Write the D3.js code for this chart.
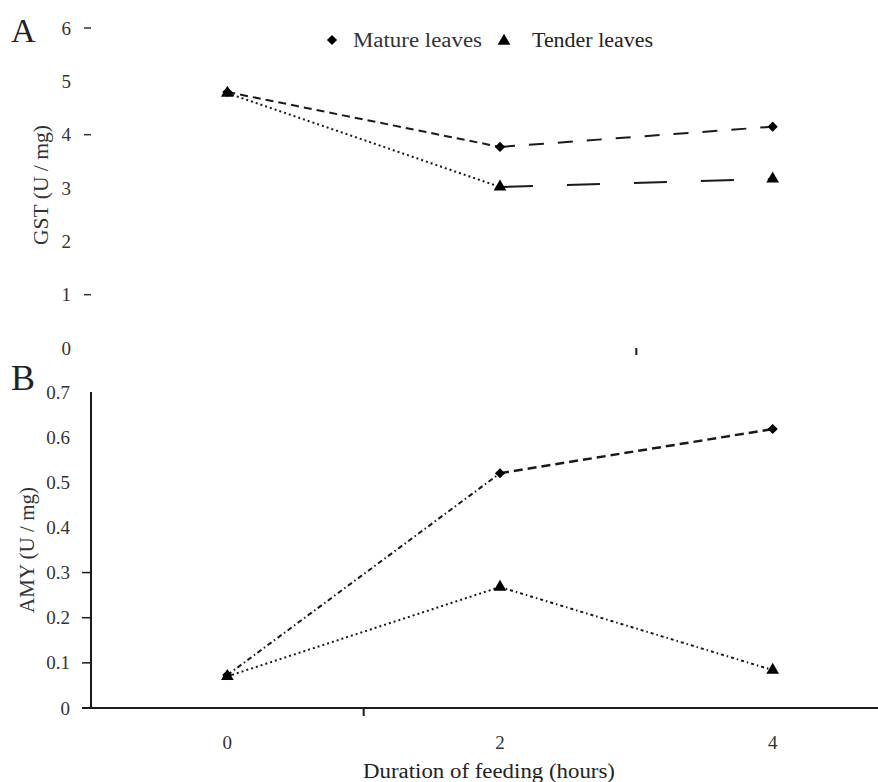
<!DOCTYPE html>
<html><head><meta charset="utf-8">
<script src="https://cdn.jsdelivr.net/npm/d3@7"></script>
<style>
html,body{margin:0;padding:0;background:#fff;}
svg{display:block;font-family:"Liberation Serif","Times New Roman",serif;}
</style></head>
<body>
<svg id="c" width="878" height="782"></svg>
<script>
// ---- data ----
const hours = ["0", "2", "4"];
const gstMature = [4.80, 3.77, 4.15];
const gstTender = [4.78, 3.02, 3.17];
const amyMature = [0.073, 0.52, 0.618];
const amyTender = [0.070, 0.268, 0.084];
const gstTicks = [0, 1, 2, 3, 4, 5, 6];
const amyTicks = [0, 0.1, 0.2, 0.3, 0.4, 0.5, 0.6, 0.7];
const seriesNames = ["Mature leaves", "Tender leaves"];

const svg = d3.select("#c");
const ink = "#1a1a1a";

const x = d3.scaleBand().domain(hours).range([91, 909]).padding(0);
const cx = d => x(d) + x.bandwidth() / 2;
const yA = d3.scaleLinear().domain([0, 6]).range([348, 28]);
const yB = d3.scaleLinear().domain([0, 0.7]).range([708, 392]);

// ---- panel A axis (labels only, few tick marks) ----
const axA = svg.append("g").attr("transform", "translate(91,0)")
  .call(d3.axisLeft(yA).tickValues(gstTicks).tickSize(0).tickPadding(20)
    .tickFormat(d3.format("d")));
axA.select(".domain").remove();
axA.selectAll("text").attr("font-size", 19).attr("fill", "#333")
  .attr("font-family", "Liberation Serif");
svg.append("g").selectAll("line").data([6, 4, 1]).join("line")
  .attr("x1", 84).attr("x2", 91)
  .attr("y1", d => yA(d)).attr("y2", d => yA(d))
  .attr("stroke", "#333").attr("stroke-width", 1.5);
// category boundary tick (A)
svg.append("line").attr("x1", x("4")).attr("x2", x("4"))
  .attr("y1", 348).attr("y2", 355).attr("stroke", ink).attr("stroke-width", 2);

// ---- panel B axes ----
const axB = svg.append("g").attr("transform", "translate(91,0)")
  .call(d3.axisLeft(yB).tickValues(amyTicks).tickSize(0).tickPadding(21)
    .tickFormat(d => d === 0 ? "0" : d3.format(".1f")(d)));
axB.select(".domain").remove();
axB.selectAll("text").attr("font-size", 19).attr("fill", "#333")
  .attr("font-family", "Liberation Serif");
svg.append("g").selectAll("line").data([0, 0.1, 0.2, 0.3]).join("line")
  .attr("x1", 82).attr("x2", 91)
  .attr("y1", d => yB(d)).attr("y2", d => yB(d))
  .attr("stroke", ink).attr("stroke-width", 1.5);
svg.append("line").attr("x1", 91).attr("x2", 91).attr("y1", 392).attr("y2", 709)
  .attr("stroke", ink).attr("stroke-width", 2);
svg.append("line").attr("x1", 82).attr("x2", 878).attr("y1", 708).attr("y2", 708)
  .attr("stroke", ink).attr("stroke-width", 2);
svg.append("line").attr("x1", x("2")).attr("x2", x("2"))
  .attr("y1", 708).attr("y2", 716).attr("stroke", ink).attr("stroke-width", 2);

const axX = svg.append("g").attr("transform", "translate(0,708)")
  .call(d3.axisBottom(x).tickSize(0).tickPadding(28));
axX.select(".domain").remove();
axX.selectAll("text").attr("font-size", 19).attr("fill", "#333")
  .attr("font-family", "Liberation Serif");

// ---- lines (segment by segment, each with its own dash style) ----
const line = d3.line();
function drawSeries(vals, y, styles) {
  for (let i = 0; i < vals.length - 1; i++) {
    const s = styles[i];
    svg.append("path")
      .attr("d", line([[cx(hours[i]), y(vals[i])], [cx(hours[i + 1]), y(vals[i + 1])]]))
      .attr("fill", "none").attr("stroke", ink)
      .attr("stroke-width", s.w).attr("stroke-dasharray", s.dash);
  }
}
drawSeries(gstMature, yA, [{dash: "8,5", w: 2}, {dash: "15,14", w: 2}]);
drawSeries(gstTender, yA, [{dash: "2,3", w: 2}, {dash: "33,34", w: 2}]);
drawSeries(amyMature, yB, [{dash: "5,3,1.5,3", w: 2}, {dash: "9,5", w: 2.5}]);
drawSeries(amyTender, yB, [{dash: "2,3", w: 2}, {dash: "3,3,1.5,3", w: 2}]);

// ---- markers ----
const diamond = d3.symbol(d3.symbolSquare, 52);
const tri = d3.symbol(d3.symbolTriangle, 70);
function markers(vals, y, kind) {
  svg.append("g").selectAll("path").data(vals).join("path")
    .attr("d", kind === "d" ? diamond() : tri())
    .attr("transform", (d, i) => `translate(${cx(hours[i])},${y(d)})` + (kind === "d" ? " rotate(45)" : ""))
    .attr("fill", "#000");
}
markers(gstMature, yA, "d");
markers(gstTender, yA, "t");
markers(amyMature, yB, "d");
markers(amyTender, yB, "t");

// ---- legend ----
svg.append("path").attr("d", diamond()).attr("transform", "translate(332,40) rotate(45)").attr("fill", "#000");
svg.append("path").attr("d", tri()).attr("transform", "translate(504,41)").attr("fill", "#000");
svg.append("text").attr("x", 353).attr("y", 47).attr("font-size", 20).attr("fill", "#333")
  .attr("textLength", 129).attr("lengthAdjust", "spacingAndGlyphs").text(seriesNames[0]);
svg.append("text").attr("x", 532).attr("y", 47).attr("font-size", 20).attr("fill", "#222")
  .attr("textLength", 121).attr("lengthAdjust", "spacingAndGlyphs").text(seriesNames[1]);

// ---- titles ----
svg.append("text").attr("transform", "translate(48,185) rotate(-90)")
  .attr("text-anchor", "middle").attr("font-size", 20).attr("fill", "#333")
  .attr("textLength", 120).attr("lengthAdjust", "spacingAndGlyphs").text("GST (U / mg)");
svg.append("text").attr("transform", "translate(34,550) rotate(-90)")
  .attr("text-anchor", "middle").attr("font-size", 20).attr("fill", "#333")
  .attr("textLength", 126).attr("lengthAdjust", "spacingAndGlyphs").text("AMY (U / mg)");
svg.append("text").attr("x", 489).attr("y", 778).attr("text-anchor", "middle")
  .attr("font-size", 20).attr("fill", "#222")
  .attr("textLength", 252).attr("lengthAdjust", "spacingAndGlyphs").text("Duration of feeding (hours)");
svg.append("text").attr("x", 11).attr("y", 42).attr("font-size", 34).attr("fill", "#222").text("A");
svg.append("text").attr("x", 11).attr("y", 390).attr("font-size", 36).attr("fill", "#222").text("B");
</script>
</body></html>
